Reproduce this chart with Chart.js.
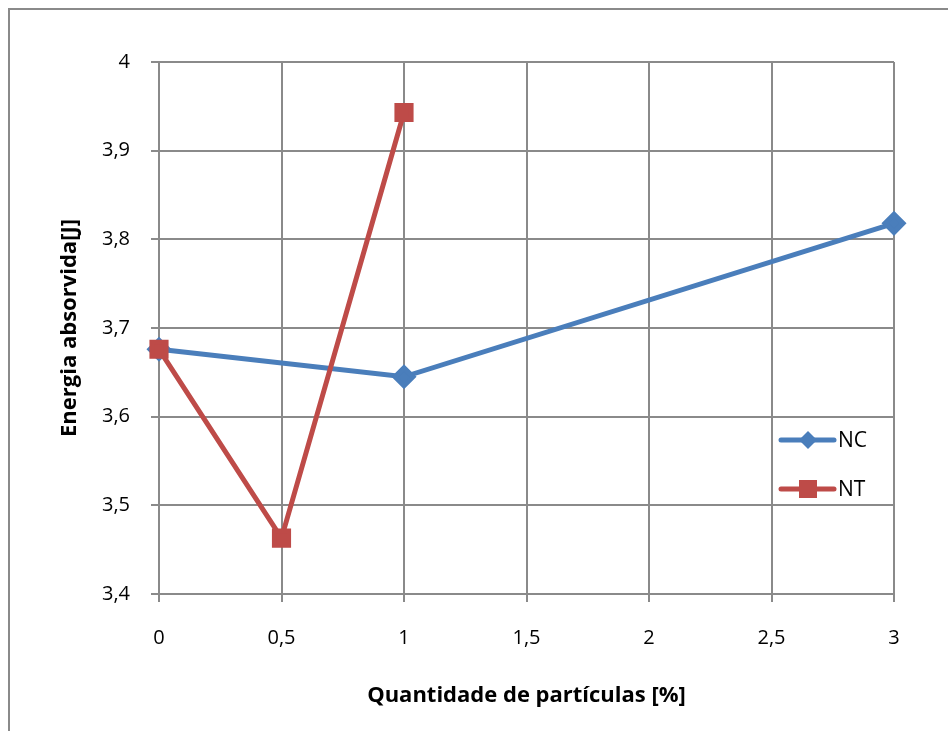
<!DOCTYPE html>
<html lang="pt">
  <head>
    <meta charset="UTF-8" />
    <title>Energia absorvida</title>
    <script src="https://cdn.jsdelivr.net/npm/chart.js"></script>
    <style>
      body { margin: 0; overflow: hidden; background: #fff; }
      #caixa { position: relative; width: 948px; height: 731px; overflow: hidden; }
      #borda { position: absolute; left: 8px; top: 8px; width: 1000px; height: 800px; border: 2px solid #8a8a8a; }
      canvas { position: absolute; left: 0; top: 0; }
    </style>
  </head>
  <body>
    <div id="caixa">
      <div id="borda"></div>
      <canvas id="grafico" width="948" height="731"></canvas>
    </div>
    <script>
      // dados
      var xNC = [0, 1, 3];
      var yNC = [3.676, 3.645, 3.818];
      var xNT = [0, 0.5, 1];
      var yNT = [3.676, 3.463, 3.943];
      var series = ["NC", "NT"];

      function pares(xs, ys) {
        var d = [];
        for (var i = 0; i < xs.length; i++) d.push({ x: xs[i], y: ys[i] });
        return d;
      }
      function virgula(v) {
        return String(Math.round(v * 10) / 10).replace(".", ",");
      }

      var fonte = "'Open Sans', 'Liberation Sans', sans-serif";

      // legenda desenhada dentro da area do grafico
      var legenda = {
        id: "legenda",
        afterDraw: function (chart) {
          var ctx = chart.ctx;
          var ys = [440, 489];
          chart.data.datasets.forEach(function (ds, i) {
            var y = ys[i];
            ctx.save();
            ctx.strokeStyle = ds.borderColor;
            ctx.lineWidth = 5;
            ctx.lineCap = "round";
            ctx.beginPath();
            ctx.moveTo(781, y);
            ctx.lineTo(834, y);
            ctx.stroke();
            ctx.fillStyle = ds.backgroundColor;
            if (ds.pointStyle === "rectRot") {
              ctx.beginPath();
              ctx.moveTo(808, y - 9);
              ctx.lineTo(817, y);
              ctx.lineTo(808, y + 9);
              ctx.lineTo(799, y);
              ctx.closePath();
              ctx.fill();
            } else {
              ctx.fillRect(799, y - 9, 18, 18);
            }
            ctx.fillStyle = "#000";
            ctx.font = "21px " + fonte;
            ctx.textBaseline = "middle";
            ctx.fillText(ds.label, 838, y + 1);
            ctx.restore();
          });
        },
      };

      new Chart(document.getElementById("grafico"), {
        type: "scatter",
        data: {
          datasets: [
            {
              label: series[0],
              data: pares(xNC, yNC),
              showLine: true,
              clip: false,
              order: 1,
              borderColor: "#4a7ebb",
              backgroundColor: "#4a7ebb",
              borderWidth: 5,
              pointStyle: "rectRot",
              pointRadius: 9,
              pointHoverRadius: 9,
            },
            {
              label: series[1],
              data: pares(xNT, yNT),
              showLine: true,
              clip: false,
              order: 0,
              borderColor: "#be4b48",
              backgroundColor: "#be4b48",
              borderWidth: 5,
              pointStyle: "rect",
              pointRadius: 10,
              pointHoverRadius: 10,
            },
          ],
        },
        options: {
          responsive: false,
          animation: false,
          layout: { padding: { top: 62, right: 54, left: 0, bottom: 0 } },
          plugins: { legend: { display: false }, tooltip: { enabled: false } },
          scales: {
            x: {
              type: "linear",
              min: 0,
              max: 3,
              ticks: {
                stepSize: 0.5,
                color: "#000",
                padding: 24,
                font: { family: fonte, size: 20 },
                callback: virgula,
              },
              grid: { color: "#8a8a8a", lineWidth: 2, tickLength: 8 },
              border: { color: "#8a8a8a", width: 2 },
              title: {
                display: true,
                text: "Quantidade de partículas [%]",
                color: "#000",
                font: { family: fonte, size: 22, weight: "bold" },
                padding: { top: 0, bottom: 22 },
              },
              afterFit: function (s) { s.height = 137; },
            },
            y: {
              min: 3.4,
              max: 4,
              ticks: {
                stepSize: 0.1,
                color: "#000",
                padding: 21,
                font: { family: fonte, size: 20 },
                callback: virgula,
              },
              grid: { color: "#8a8a8a", lineWidth: 2, tickLength: 8 },
              border: { color: "#8a8a8a", width: 2 },
              title: {
                display: true,
                text: "Energia absorvida[J]",
                color: "#000",
                font: { family: fonte, size: 22, weight: "bold" },
                padding: { bottom: 0, top: 57 },
              },
              afterFit: function (s) { s.width = 159; },
            },
          },
        },
        plugins: [legenda],
      });
    </script>
  </body>
</html>
